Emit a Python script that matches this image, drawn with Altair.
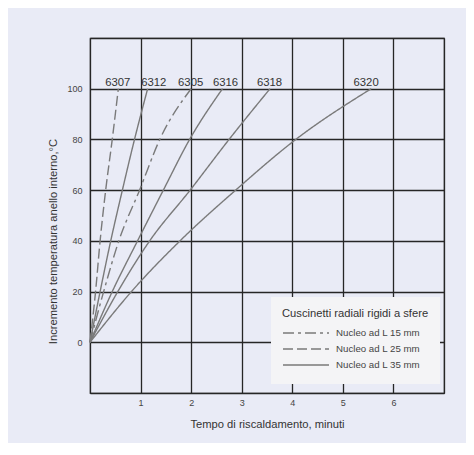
import altair as alt
import pandas as pd

# ---- data ----
bearings = ["6307", "6312", "6305", "6316", "6318", "6320"]
core_length = ["Nucleo ad L 25 mm", "Nucleo ad L 35 mm", "Nucleo ad L 15 mm",
               "Nucleo ad L 35 mm", "Nucleo ad L 35 mm", "Nucleo ad L 35 mm"]
temp_rise = [0, 20, 40, 60, 80, 100]
time_6307 = [0, 0.11, 0.20, 0.31, 0.44, 0.56]
time_6312 = [0, 0.20, 0.41, 0.64, 0.88, 1.14]
time_6305 = [0, 0.27, 0.57, 0.98, 1.38, 2.00]
time_6316 = [0, 0.44, 0.94, 1.45, 1.97, 2.62]
time_6318 = [0, 0.55, 1.18, 1.98, 2.75, 3.56]
time_6320 = [0, 0.82, 1.78, 2.88, 4.07, 5.56]
label_time = [0.55, 1.26, 1.99, 2.68, 3.55, 5.46]
label_temp = [100, 100, 100, 100, 100, 100]
core_legend = ["Nucleo ad L 15 mm", "Nucleo ad L 25 mm", "Nucleo ad L 35 mm"]
x_ticks = [0, 1, 2, 3, 4, 5, 6, 7]
y_ticks = [-20, 0, 20, 40, 60, 80, 100, 120]

times = [time_6307, time_6312, time_6305, time_6316, time_6318, time_6320]
rows = []
for b, c, ts in zip(bearings, core_length, times):
    for i, (t, y) in enumerate(zip(ts, temp_rise)):
        rows.append({"bearing": b, "core": c, "t": t, "y": y, "i": i})
curves = pd.DataFrame(rows)
labels = pd.DataFrame({"bearing": bearings, "t": label_time, "y": label_temp})

FONT = "Liberation Sans"
LINE = "#7a7a7a"

xs = alt.Scale(domain=[0, 7], nice=False, zero=False)
ys = alt.Scale(domain=[-20, 120], nice=False, zero=False)

lines = alt.Chart(curves).mark_line(
    interpolate="monotone", color=LINE, strokeWidth=1.4
).encode(
    x=alt.X("t:Q", scale=xs,
            axis=alt.Axis(values=x_ticks, title="Tempo di riscaldamento, minuti",
                          labelExpr="datum.value >= 1 && datum.value <= 6 ? datum.label : ''")),
    y=alt.Y("y:Q", scale=ys,
            axis=alt.Axis(values=y_ticks, title="Incremento temperatura anello interno,°C",
                          titleY=203,
                          labelExpr="datum.value >= 0 && datum.value <= 100 ? datum.label : ''")),
    strokeDash=alt.StrokeDash(
        "core:N",
        scale=alt.Scale(domain=core_legend, range=[[11, 4, 3, 4], [10, 4], [1, 0]]),
        legend=alt.Legend(
            title="Cuscinetti radiali rigidi a sfere", orient="none",
            legendX=181, legendY=259, padding=11, fillColor="#f4f4f6",
            titleFont=FONT, titleFontSize=11.2, titleFontWeight="normal", titleColor="#333333",
            titlePadding=6, labelFont=FONT, labelFontSize=9.7, labelColor="#444444",
            symbolType="stroke", symbolSize=2116, symbolStrokeColor=LINE,
            symbolStrokeWidth=1.5, clipHeight=15.5, rowPadding=0, labelOffset=6,
        ),
    ),
    detail="bearing:N",
    order="i:Q",
)

texts = alt.Chart(labels).mark_text(
    font=FONT, fontSize=11.3, color="#333333", baseline="alphabetic", dy=-3
).encode(
    x=alt.X("t:Q", scale=xs),
    y=alt.Y("y:Q", scale=ys),
    text="bearing:N",
)

chart = alt.layer(lines, texts).properties(
    width=354, height=355,
    autosize=alt.AutoSizeParams(type="none"),
    padding={"left": 82, "top": 30, "right": 22, "bottom": 50},
    background="#e9ebf6",
).configure_view(
    stroke="#444444", strokeWidth=1.2, fill="#e9ebf6"
).configure_axis(
    grid=True, gridColor="#262626", gridWidth=1.3, gridOpacity=1,
    domain=False, ticks=False, tickSize=0,
    labelFont=FONT, labelFontSize=9, labelColor="#444444",
    titleFont=FONT, titleFontSize=11.2, titleFontWeight="normal", titleColor="#333333",
).configure_axisX(
    labelPadding=5, titlePadding=11.5,
).configure_axisY(
    labelPadding=8, titlePadding=8,
)

chart.save("out.html", embed_options={"renderer": "svg", "actions": False})
